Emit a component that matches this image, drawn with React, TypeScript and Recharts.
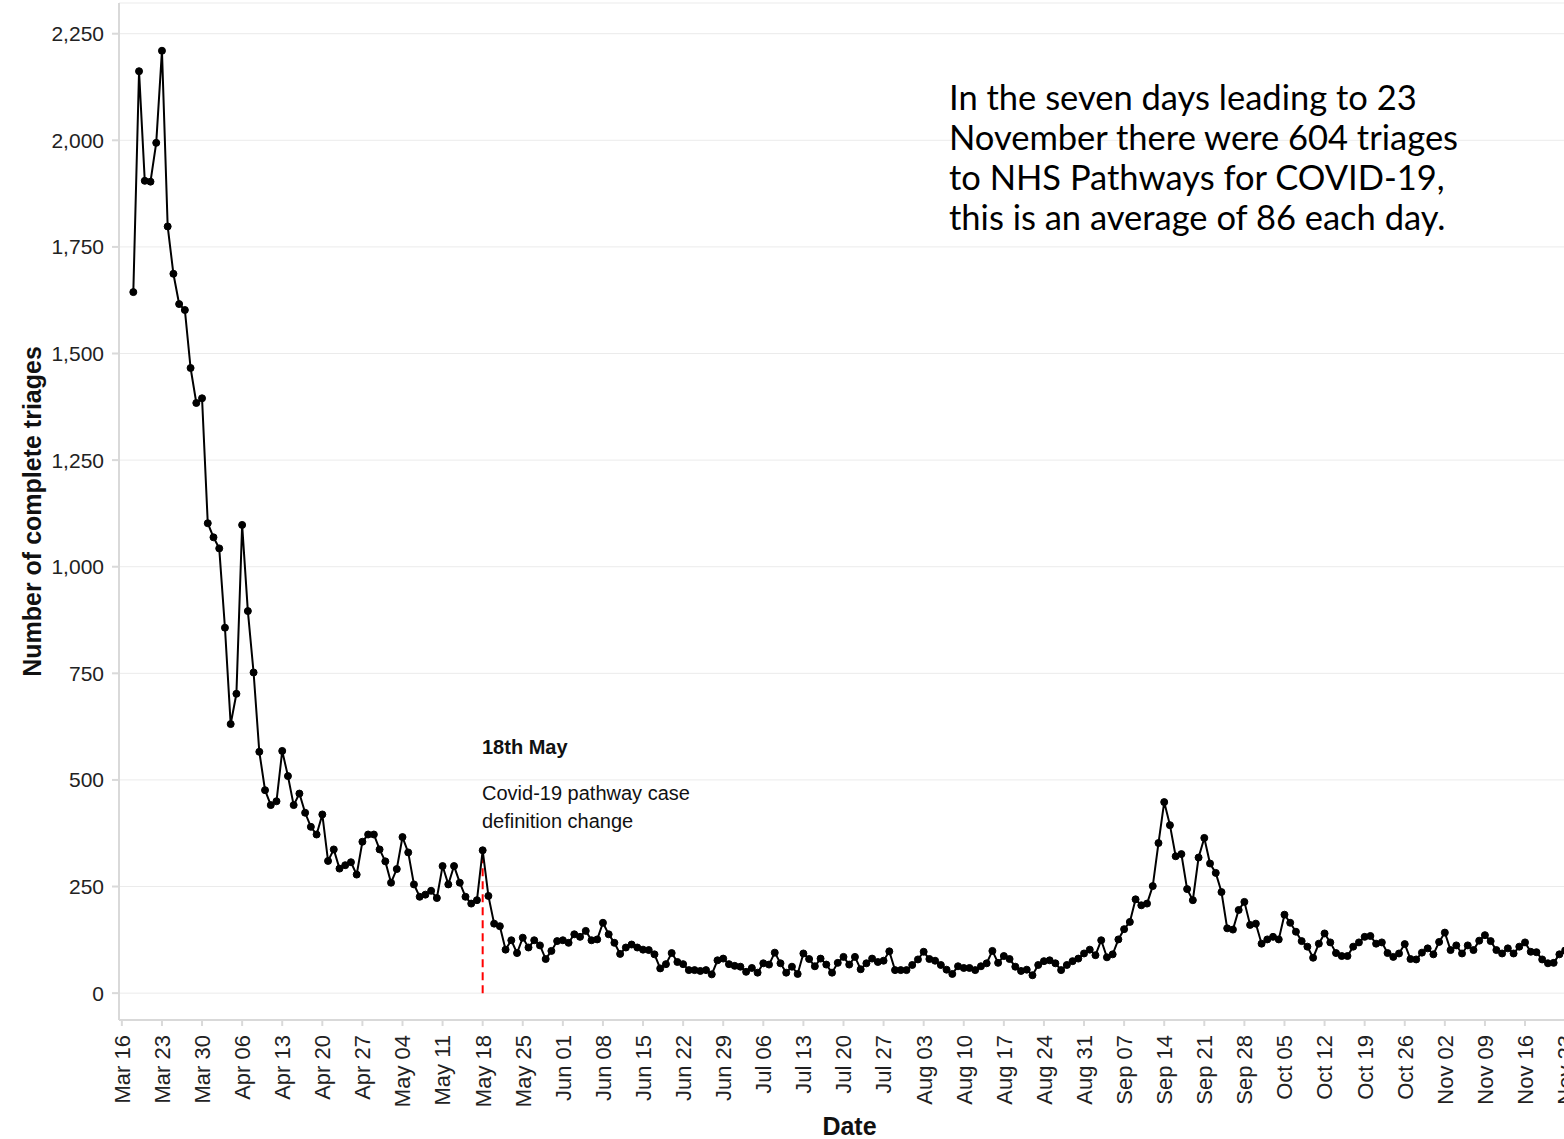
import {
  LineChart,
  Line,
  XAxis,
  YAxis,
  CartesianGrid,
  ReferenceLine,
} from "recharts";

// daily completed triages, Mar 18 – Nov 23 (day 0 = Mar 16)
const marValues = [1644, 2162, 1905, 1903, 1994, 2210, 1798, 1687, 1616, 1602, 1466, 1384, 1395, 1102];
const aprValues = [
  1069, 1043, 857, 631, 702, 1098, 896, 752, 566, 476, 441, 450, 568, 509, 441,
  468, 423, 390, 372, 419, 310, 337, 292, 300, 307, 278, 355, 372, 372, 337,
];
const mayValues = [
  309, 259, 291, 366, 330, 255, 226, 231, 240, 223, 298, 255, 298, 259, 226, 210,
  218, 335, 228, 163, 157, 102, 124, 94, 130, 107, 124, 112, 80, 99, 122,
];
const junValues = [
  124, 118, 138, 132, 146, 124, 126, 165, 138, 118, 92, 107, 114, 107, 102,
  101, 91, 58, 68, 94, 73, 68, 54, 54, 52, 54, 44, 77, 81, 68,
];
const julValues = [
  64, 62, 50, 59, 48, 70, 67, 95, 70, 48, 62, 45, 93, 80, 63, 81, 67, 48, 71,
  85, 67, 85, 56, 70, 81, 73, 76, 98, 54, 54, 54,
];
const augValues = [
  66, 79, 97, 80, 76, 66, 55, 45, 63, 59, 59, 54, 63, 70, 99, 71, 87, 80, 62,
  52, 55, 42, 66, 75, 77, 70, 54, 66, 75, 81, 93,
];
const sepValues = [
  102, 89, 124, 84, 91, 126, 150, 167, 220, 206, 210, 251, 352, 448, 394, 321,
  326, 244, 218, 318, 364, 304, 282, 237, 152, 149, 195, 214, 160, 163,
];
const octValues = [
  116, 126, 132, 126, 184, 165, 144, 122, 109, 83, 116, 140, 119, 94, 87, 87,
  109, 119, 132, 134, 116, 119, 94, 85, 93, 115, 80, 79, 95, 105, 91,
];
const novValues = [
  120, 142, 101, 112, 93, 112, 101, 123, 136, 122, 101, 93, 105, 93, 109, 119,
  97, 96, 79, 70, 71, 91, 100,
];

// first day of each block, counted from Mar 16
const monthStarts = [2, 16, 46, 77, 107, 138, 169, 199, 230];
const monthValues = [marValues, aprValues, mayValues, junValues, julValues, augValues, sepValues, octValues, novValues];

const tickLabels = [
  "Mar 16", "Mar 23", "Mar 30", "Apr 06", "Apr 13", "Apr 20", "Apr 27",
  "May 04", "May 11", "May 18", "May 25", "Jun 01", "Jun 08", "Jun 15",
  "Jun 22", "Jun 29", "Jul 06", "Jul 13", "Jul 20", "Jul 27", "Aug 03",
  "Aug 10", "Aug 17", "Aug 24", "Aug 31", "Sep 07", "Sep 14", "Sep 21",
  "Sep 28", "Oct 05", "Oct 12", "Oct 19", "Oct 26", "Nov 02", "Nov 09",
  "Nov 16", "Nov 23",
];
const yTicks = [0, 250, 500, 750, 1000, 1250, 1500, 1750, 2000, 2250];

const changeDay = 63; // 18th May
const changeValue = 335;

const data = monthValues.flatMap((vals, m) =>
  vals.map((v, i) => ({ day: monthStarts[m] + i, triages: v }))
);
const xTicks = tickLabels.map((_, i) => i * 7);

const FONT = "'Liberation Sans', Arial, sans-serif";
const AXIS_GREY = "#d9d9d9";

function DateTick(props: any) {
  const { x, y, payload } = props;
  const label = tickLabels[Math.round(payload.value / 7)];
  return (
    <text
      x={x}
      y={y}
      transform={`rotate(-90 ${x} ${y})`}
      textAnchor="end"
      dy="0.36em"
      fontSize={22}
      fontFamily={FONT}
      fill="#222"
    >
      {label}
    </text>
  );
}

export default function App() {
  return (
    <div
      style={{
        position: "absolute",
        left: 0,
        top: 0,
        width: 1564,
        height: 1139,
        overflow: "hidden",
        background: "#fff",
      }}
    >
      <LineChart
        width={1600}
        height={1139}
        data={data}
        margin={{ top: 3, right: 20, left: 0, bottom: 0 }}
      >
        <CartesianGrid vertical={false} stroke="#ebebeb" />
        <XAxis
          dataKey="day"
          type="number"
          domain={[-0.5, 254.6]}
          ticks={xTicks}
          interval={0}
          allowDataOverflow
          height={119}
          tick={<DateTick />}
          tickSize={6}
          tickMargin={9}
          axisLine={{ stroke: AXIS_GREY, strokeWidth: 2 }}
          tickLine={{ stroke: AXIS_GREY, strokeWidth: 2 }}
          label={{
            value: "Date",
            position: "insideBottom",
            offset: 4,
            style: { fontFamily: FONT, fontSize: 25, fontWeight: 700, fill: "#111" },
          }}
        />
        <YAxis
          type="number"
          domain={[-63, 2322]}
          ticks={yTicks}
          interval={0}
          allowDataOverflow
          width={119}
          tickSize={7}
          tickMargin={8}
          tickFormatter={(v: number) => v.toLocaleString("en-US")}
          tick={{ fontSize: 21, fontFamily: FONT, fill: "#222" }}
          axisLine={{ stroke: AXIS_GREY, strokeWidth: 2 }}
          tickLine={{ stroke: AXIS_GREY, strokeWidth: 2 }}
          label={{
            value: "Number of complete triages",
            angle: -90,
            position: "insideLeft",
            offset: 32,
            style: {
              textAnchor: "middle",
              fontFamily: FONT,
              fontSize: 25,
              fontWeight: 700,
              fill: "#111",
            },
          }}
        />
        <ReferenceLine
          segment={[
            { x: changeDay, y: 0 },
            { x: changeDay, y: changeValue },
          ]}
          stroke="#ff0000"
          strokeWidth={2}
          strokeDasharray="8 5"
        />
        <Line
          type="linear"
          dataKey="triages"
          stroke="#000"
          strokeWidth={2}
          dot={{ r: 3.5, fill: "#000", stroke: "#000", strokeWidth: 1 }}
          isAnimationActive={false}
        />
      </LineChart>

      <div
        style={{
          position: "absolute",
          left: 482,
          top: 735,
          fontFamily: FONT,
          fontSize: 20,
          fontWeight: 700,
          lineHeight: "24px",
          color: "#111",
          whiteSpace: "nowrap",
        }}
      >
        18th May
      </div>
      <div
        style={{
          position: "absolute",
          left: 482,
          top: 779,
          fontFamily: FONT,
          fontSize: 20,
          lineHeight: "28px",
          color: "#111",
          whiteSpace: "nowrap",
        }}
      >
        Covid-19 pathway case
        <br />
        definition change
      </div>
      <div
        style={{
          position: "absolute",
          left: 949,
          top: 77,
          fontFamily: "Lato, 'Open Sans', sans-serif",
          fontSize: 34.5,
          lineHeight: "40px",
          color: "#000",
          whiteSpace: "nowrap",
        }}
      >
        In the seven days leading to 23
        <br />
        November there were 604 triages
        <br />
        to NHS Pathways for COVID-19,
        <br />
        this is an average of 86 each day.
      </div>
    </div>
  );
}
